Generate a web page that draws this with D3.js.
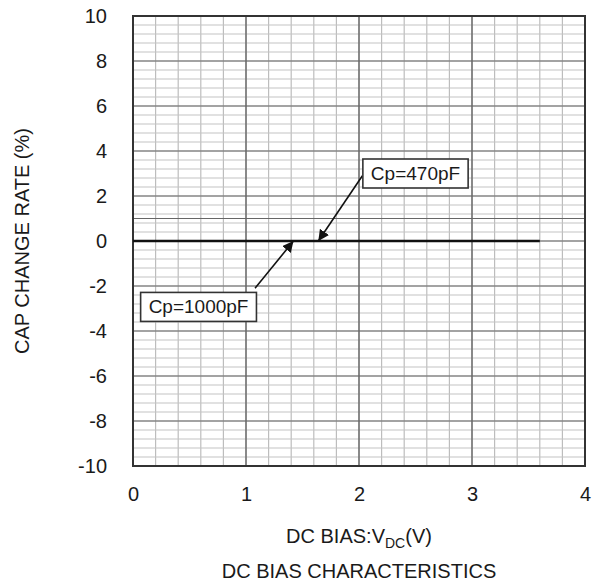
<!DOCTYPE html>
<html>
<head>
<meta charset="utf-8">
<script src="https://cdn.jsdelivr.net/npm/d3@7"></script>
<style>
  body { margin: 0; background: #fff; }
  text { font-family: Arial, "Liberation Sans", sans-serif; fill: #1a1a1a; }
</style>
</head>
<body>
<div id="chart"></div>
<script>
// values
const biasV = [0, 3.6];
const capChange = [0, 0];
const xTicks = [0, 1, 2, 3, 4];
const yTicks = [10, 8, 6, 4, 2, 0, -2, -4, -6, -8, -10];
const annoText = ["Cp=470pF", "Cp=1000pF"];
const annoBox = [[2.5, 3.0], [0.58, -2.93]];    // box centre (V, %)
const annoFrom = [[2.03, 2.9], [1.08, -2.1]];   // arrow start
const annoTip = [[1.64, 0], [1.42, 0]];         // arrow tip

const width = 594, height = 586;
const margin = {top: 16, right: 9, bottom: 120, left: 133};

const svg = d3.select("#chart").append("svg")
    .attr("width", width)
    .attr("height", height);

const x = d3.scaleLinear().domain([0, 4]).range([margin.left, width - margin.right]);
const y = d3.scaleLinear().domain([-10, 10]).range([height - margin.bottom, margin.top]);

// minor grid
const grid = svg.append("g");
grid.selectAll(".vminor")
    .data(d3.range(0, 4.001, 0.2).map(d => +d.toFixed(2)))
    .enter().append("line")
    .attr("x1", d => x(d)).attr("x2", d => x(d))
    .attr("y1", y(10)).attr("y2", y(-10))
    .attr("stroke", "#bdbdbd").attr("stroke-width", 1.2);
grid.selectAll(".hminor")
    .data(d3.range(-10, 10.001, 0.4).map(d => +d.toFixed(2)))
    .enter().append("line")
    .attr("x1", x(0)).attr("x2", x(4))
    .attr("y1", d => y(d)).attr("y2", d => y(d))
    .attr("stroke", "#c4c4c4").attr("stroke-width", 1.2);

// major grid
grid.selectAll(".vmajor")
    .data(xTicks)
    .enter().append("line")
    .attr("x1", d => x(d)).attr("x2", d => x(d))
    .attr("y1", y(10)).attr("y2", y(-10))
    .attr("stroke", "#555").attr("stroke-width", 1.2);
grid.selectAll(".hmajor")
    .data(yTicks.concat([1]))
    .enter().append("line")
    .attr("x1", x(0)).attr("x2", x(4))
    .attr("y1", d => y(d)).attr("y2", d => y(d))
    .attr("stroke", "#666").attr("stroke-width", 1.2);

// frame
svg.append("rect")
    .attr("x", x(0)).attr("y", y(10))
    .attr("width", x(4) - x(0)).attr("height", y(-10) - y(10))
    .attr("fill", "none").attr("stroke", "#333").attr("stroke-width", 2);

// axes (labels only)
const xAxis = svg.append("g")
    .attr("transform", "translate(0," + y(-10) + ")")
    .call(d3.axisBottom(x).tickValues(xTicks).tickSize(0).tickPadding(21).tickFormat(d => String(d)));
const yAxis = svg.append("g")
    .attr("transform", "translate(" + x(0) + ",0)")
    .call(d3.axisLeft(y).tickValues(yTicks).tickSize(0).tickPadding(26).tickFormat(d => String(d)));
[xAxis, yAxis].forEach(a => {
    a.select(".domain").remove();
    a.selectAll("text").attr("font-size", 20).attr("fill", "#1a1a1a")
        .attr("font-family", "Arial, 'Liberation Sans', sans-serif");
});

// data line
svg.append("path")
    .datum(biasV.map((v, i) => [v, capChange[i]]))
    .attr("d", d3.line().x(d => x(d[0])).y(d => y(d[1])))
    .attr("fill", "none").attr("stroke", "#111").attr("stroke-width", 2.6);

// annotations
svg.append("defs").append("marker")
    .attr("id", "head")
    .attr("viewBox", "0 0 10 10")
    .attr("refX", 10).attr("refY", 5)
    .attr("markerWidth", 11).attr("markerHeight", 11)
    .attr("markerUnits", "userSpaceOnUse")
    .attr("orient", "auto")
    .append("path").attr("d", "M0,0 L10,5 L0,10 Z").attr("fill", "#111");

annoText.forEach((t, i) => {
    svg.append("line")
        .attr("x1", x(annoFrom[i][0])).attr("y1", y(annoFrom[i][1]))
        .attr("x2", x(annoTip[i][0])).attr("y2", y(annoTip[i][1]))
        .attr("stroke", "#111").attr("stroke-width", 1.6)
        .attr("marker-end", "url(#head)");
    const g = svg.append("g");
    const label = g.append("text")
        .attr("x", x(annoBox[i][0])).attr("y", y(annoBox[i][1]))
        .attr("text-anchor", "middle").attr("dominant-baseline", "central")
        .attr("font-size", 19).text(t);
    const bb = label.node().getBBox();
    g.insert("rect", "text")
        .attr("x", bb.x - 8).attr("y", bb.y - 4)
        .attr("width", bb.width + 16).attr("height", bb.height + 8)
        .attr("fill", "#fff").attr("stroke", "#333").attr("stroke-width", 1.6);
});

// axis titles
svg.append("text")
    .attr("transform", "translate(29," + y(0) + ") rotate(-90)")
    .attr("text-anchor", "middle")
    .attr("font-size", 20)
    .text("CAP CHANGE RATE (%)");

const xt = svg.append("text")
    .attr("x", (x(0) + x(4)) / 2).attr("y", 543)
    .attr("text-anchor", "middle")
    .attr("font-size", 20);
xt.append("tspan").text("DC BIAS:V");
xt.append("tspan").attr("font-size", 14).attr("dy", 5).text("DC");
xt.append("tspan").attr("dy", -5).text("(V)");

svg.append("text")
    .attr("x", (x(0) + x(4)) / 2).attr("y", 578)
    .attr("text-anchor", "middle")
    .attr("font-size", 20)
    .text("DC BIAS CHARACTERISTICS");
</script>
</body>
</html>
